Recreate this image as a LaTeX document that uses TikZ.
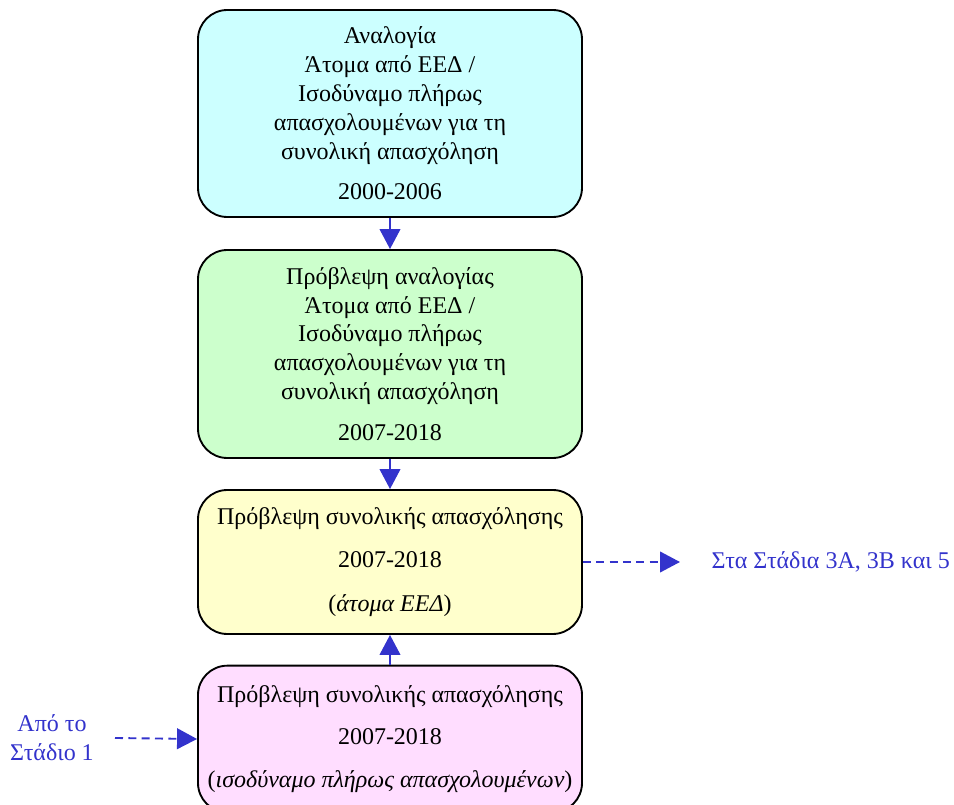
\documentclass[tikz,border=0pt]{standalone}
\usepackage{fontspec}
\setmainfont{Liberation Serif}
\usetikzlibrary{arrows.meta}
\definecolor{cyanbox}{HTML}{CCFFFF}
\definecolor{greenbox}{HTML}{CCFFCC}
\definecolor{yellowbox}{HTML}{FFFFCC}
\definecolor{pinkbox}{HTML}{FFDDFF}
\definecolor{flowblue}{HTML}{3333CC}
\begin{document}
\begin{tikzpicture}[x=0.75pt,y=-0.75pt,
  stagebox/.style={draw=black, line width=1.4pt, rounded corners=22pt, minimum width=288pt, align=center, inner sep=0pt,
    font=\fontsize{18pt}{21.6pt}\selectfont},
  flow/.style={draw=flowblue, line width=1.4pt, -{Triangle[length=15pt,width=15.5pt]}},
  dflow/.style={flow, dash pattern=on 6pt off 4pt},
  side/.style={text=flowblue, align=center, font=\fontsize{18pt}{21.6pt}\selectfont}]
\useasboundingbox (0,0) rectangle (954,805);
\node[stagebox, fill=cyanbox, minimum height=155.25pt] (b1) at (390,113.5)
  {Αναλογία\\Άτομα από ΕΕΔ /\\Ισοδύναμο πλήρως\\απασχολουμένων για τη\\συνολική απασχόληση\\[9pt]2000-2006};
\node[stagebox, fill=greenbox, minimum height=156pt] (b2) at (390,354)
  {Πρόβλεψη αναλογίας\\Άτομα από ΕΕΔ /\\Ισοδύναμο πλήρως\\απασχολουμένων για τη\\συνολική απασχόληση\\[9pt]2007-2018};
\node[stagebox, fill=yellowbox, minimum height=108pt] (b3) at (390,562)
  {Πρόβλεψη συνολικής απασχόλησης\\[11pt]2007-2018\\[11pt](\textit{άτομα ΕΕΔ})};
\node[stagebox, fill=pinkbox, minimum height=110pt] (b4) at (390,739)
  {Πρόβλεψη συνολικής απασχόλησης\\[10pt]2007-2018\\[10pt](\textit{ισοδύναμο πλήρως απασχολουμένων})};
\node[side, anchor=west] (out) at (707,562) {Στα Στάδια 3Α, 3Β και 5};
\node[side] (in) at (52,738) {Από το\\Στάδιο 1};
\coordinate (outend) at (680,562);
\coordinate (instart) at (115,738);
\draw[flow] (b1.south) -- (b2.north);
\draw[flow] (b2.south) -- (b3.north);
\draw[flow] (b4.north) -- (b3.south);
\draw[dflow] (b3.east) -- (outend);
\draw[dflow] (instart) -- (b4.west);
\end{tikzpicture}
\end{document}
